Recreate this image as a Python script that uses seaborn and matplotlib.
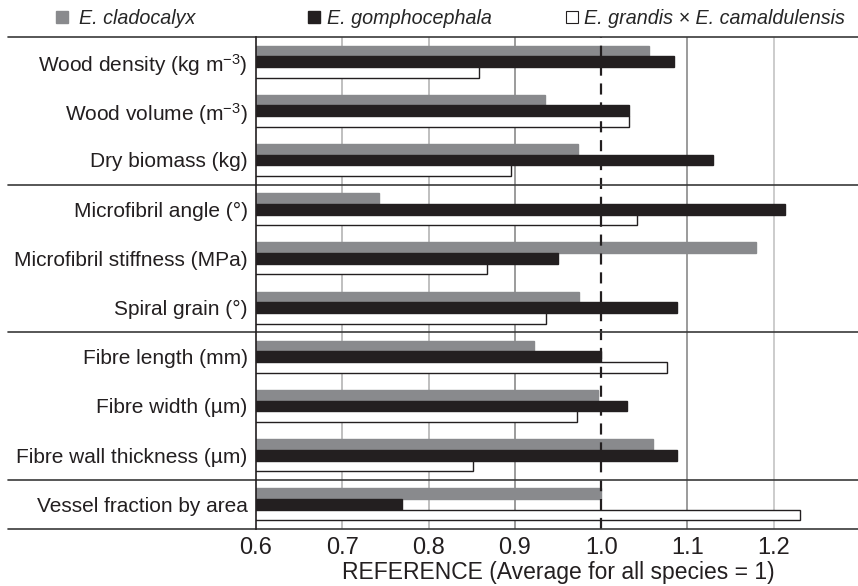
import matplotlib
matplotlib.use("Agg")
import matplotlib.pyplot as plt
import matplotlib.transforms as mtransforms
from matplotlib.lines import Line2D
import seaborn as sns
import pandas as pd

traits = [
    "Wood density (kg m$^{-3}$)",
    "Wood volume (m$^{-3}$)",
    "Dry biomass (kg)",
    "Microfibril angle (°)",
    "Microfibril stiffness (MPa)",
    "Spiral grain (°)",
    "Fibre length (mm)",
    "Fibre width (µm)",
    "Fibre wall thickness (µm)",
    "Vessel fraction by area",
]
species = ["E. cladocalyx", "E. gomphocephala", "E. grandis × E. camaldulensis"]
cladocalyx = [1.056, 0.935, 0.973, 0.743, 1.180, 0.974, 0.922, 0.996, 1.060, 1.000]
gomphocephala = [1.084, 1.032, 1.130, 1.213, 0.950, 1.088, 1.000, 1.030, 1.088, 0.769]
grandis_cam = [0.858, 1.032, 0.895, 1.041, 0.868, 0.936, 1.076, 0.972, 0.851, 1.231]
xticks = [0.6, 0.7, 0.8, 0.9, 1.0, 1.1, 1.2]
group_breaks = [2.5, 5.5, 8.5]

GREY = "#898a8d"
BLACK = "#231f20"
WHITE = "#ffffff"

sns.set_theme(style="white")
plt.rcParams["font.family"] = ["Liberation Sans", "DejaVu Sans"]
plt.rcParams["mathtext.fontset"] = "custom"
plt.rcParams["mathtext.rm"] = "Liberation Sans"
plt.rcParams["mathtext.it"] = "Liberation Sans:italic"
plt.rcParams["mathtext.default"] = "regular"

rows = []
for vals, sp in zip([cladocalyx, gomphocephala, grandis_cam], species):
    for t, v in zip(traits, vals):
        rows.append({"trait": t, "species": sp, "value": v})
df = pd.DataFrame(rows)

fig = plt.figure(figsize=(8.58, 5.86), dpi=100)
ax = fig.add_axes([256 / 858, 1 - 529 / 586, 604 / 858, (529 - 37) / 586])

sns.barplot(data=df, y="trait", x="value", hue="species", orient="h",
            order=traits, hue_order=species,
            palette=[GREY, BLACK, WHITE], saturation=1, width=0.65,
            errorbar=None, legend=False, ax=ax, zorder=3)

edgecols = [GREY, BLACK, BLACK]
for cont, ec in zip(ax.containers, edgecols):
    for p in cont:
        p.set_edgecolor(ec)
        p.set_linewidth(1.0)

ax.set_xlim(0.6, 1.3)
ax.set_ylim(9.5, -0.5)
ax.set_xticks(xticks)
ax.set_xticklabels([f"{x:.1f}" for x in xticks], fontsize=17, color="#231f20")
ax.tick_params(axis="x", length=0, pad=6)
ax.tick_params(axis="y", which="major", length=0, pad=6, labelsize=15, labelcolor="#231f20")
ax.set_yticks([i + 0.5 for i in range(9)], minor=True)
ax.tick_params(axis="y", which="minor", length=6, width=1, color="#555555", direction="out")
ax.set_xlabel("REFERENCE (Average for all species = 1)", fontsize=16.5, color="#231f20", labelpad=1)
ax.set_ylabel("")

grid_cols = {0.7: "#b4b4b4", 0.8: "#b4b4b4", 0.9: "#8a8a8a", 1.1: "#8a8a8a", 1.2: "#c4c4c4"}
for gx, gc in grid_cols.items():
    ax.axvline(gx, color=gc, lw=1.2, zorder=1)
ax.axvline(1.0, color=BLACK, lw=1.6, ls=(0, (5, 3.5)), zorder=4)

for s in ["top", "right", "bottom"]:
    ax.spines[s].set_visible(False)
ax.spines["left"].set_color(BLACK)
ax.spines["left"].set_linewidth(1.2)
ax.spines["left"].set_zorder(5)

trans = mtransforms.blended_transform_factory(ax.transAxes, ax.transData)
x0 = (8 - 256) / 604
for yb in [-0.5] + group_breaks + [9.5]:
    ax.plot([x0, 1.0], [yb, yb], transform=trans, color="#3a3a3a", lw=1.2,
            clip_on=False, zorder=5)

handles = [
    Line2D([], [], marker="s", ls="", markersize=8, markerfacecolor=GREY, markeredgecolor=GREY),
    Line2D([], [], marker="s", ls="", markersize=8, markerfacecolor=BLACK, markeredgecolor=BLACK),
    Line2D([], [], marker="s", ls="", markersize=8, markerfacecolor=WHITE, markeredgecolor=BLACK, markeredgewidth=0.8),
]
xpos = [56 / 858, 308 / 858, 566 / 858]
pads = [0.55, 0.35, 0.3]
for h, lab, xp, tp in zip(handles, species, xpos, pads):
    fig.legend([h], [lab], loc="center left", bbox_to_anchor=(xp, 1 - 18 / 586),
               frameon=False, handlelength=0.6, handletextpad=tp, borderpad=0,
               borderaxespad=0, prop={"style": "italic", "size": 14.2})

fig.savefig("out.png", dpi=100)
